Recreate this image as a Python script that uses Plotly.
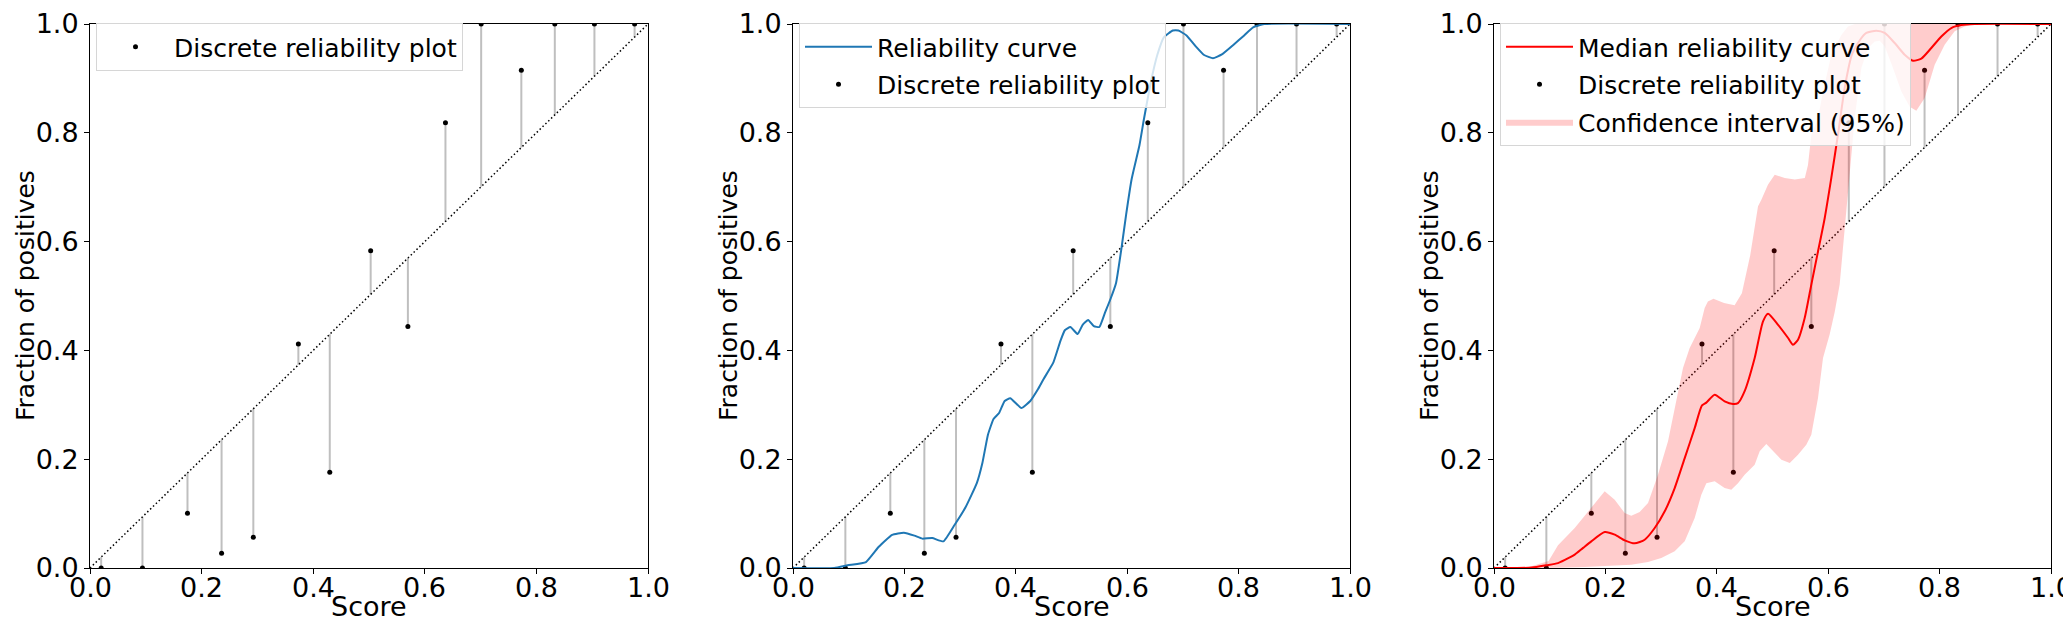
import plotly.graph_objects as go

# ---------------- data ----------------
disc_x = [0.02, 0.094, 0.1747, 0.2358, 0.2927, 0.3734, 0.4297, 0.503, 0.5697, 0.637,
          0.701, 0.773, 0.833, 0.904, 0.976]
disc_y = [0.0, 0.0, 0.1005, 0.027, 0.0564, 0.4118, 0.176, 0.583, 0.444, 0.8185,
          1.0, 0.915, 1.0, 1.0, 1.0]

curve_x = [0.0, 0.074, 0.098, 0.131, 0.154, 0.178, 0.199, 0.218, 0.232, 0.25, 0.27,
           0.29, 0.31, 0.33, 0.34, 0.35, 0.36, 0.37, 0.38, 0.39, 0.41, 0.426, 0.44,
           0.45, 0.4675, 0.48, 0.488, 0.498, 0.511, 0.52, 0.53, 0.54, 0.55, 0.56,
           0.57, 0.58, 0.59, 0.598, 0.608, 0.622, 0.63, 0.642, 0.654, 0.666, 0.682,
           0.692, 0.7065, 0.723, 0.738, 0.754, 0.77, 0.79, 0.81, 0.826, 0.846, 1.0]
curve_y = [0.0, 0.0, 0.005, 0.011, 0.039, 0.061, 0.065, 0.0595, 0.054, 0.055, 0.049,
           0.079, 0.112, 0.156, 0.193, 0.245, 0.274, 0.285, 0.307, 0.312, 0.294, 0.307,
           0.329, 0.3475, 0.378, 0.417, 0.437, 0.443, 0.43, 0.447, 0.456, 0.4445, 0.443,
           0.469, 0.4945, 0.524, 0.59, 0.649, 0.715, 0.777, 0.825, 0.891, 0.943, 0.976,
           0.988, 0.988, 0.979, 0.959, 0.943, 0.937, 0.944, 0.961, 0.979, 0.994, 1.0, 1.0]

median_x = [0.0, 0.0675, 0.094, 0.1149, 0.137, 0.1449, 0.16, 0.1747, 0.1987, 0.2167,
            0.2346, 0.2526, 0.2705, 0.2885, 0.3065, 0.3244, 0.3424, 0.3603, 0.3734,
            0.3812, 0.3962, 0.4141, 0.4291, 0.438, 0.45, 0.468, 0.483, 0.492, 0.51,
            0.528, 0.5368, 0.5458, 0.5578, 0.5697, 0.5817, 0.5937, 0.6056, 0.618, 0.63,
            0.643, 0.658, 0.6685, 0.6864, 0.7014, 0.7193, 0.7373, 0.7522, 0.7672,
            0.7851, 0.8031, 0.821, 0.839, 0.863, 1.0]
median_y = [0.0, 0.0007, 0.005, 0.009, 0.02, 0.0245, 0.037, 0.049, 0.0662, 0.0613,
            0.0509, 0.0453, 0.052, 0.0735, 0.1042, 0.147, 0.202, 0.257, 0.299, 0.304,
            0.3186, 0.3064, 0.3015, 0.303, 0.325, 0.386, 0.4535, 0.4675, 0.447, 0.4228,
            0.4105, 0.4197, 0.4596, 0.521, 0.582, 0.643, 0.717, 0.80, 0.885, 0.945,
            0.972, 0.9835, 0.9877, 0.9835, 0.965, 0.9436, 0.9326, 0.9363, 0.9559, 0.977,
            0.9926, 0.998, 1.0, 1.0]

upper_x = [0.0, 0.06, 0.098, 0.1149, 0.1449, 0.1747, 0.1987, 0.2167, 0.2346, 0.2465,
           0.2615, 0.2765, 0.2944, 0.3124, 0.3273, 0.3393, 0.3513, 0.3693, 0.3782,
           0.384, 0.394, 0.413, 0.432, 0.445, 0.46, 0.474, 0.48, 0.492, 0.504, 0.522,
           0.54, 0.558, 0.5637, 0.5697, 0.5817, 0.5907, 0.6056, 0.6236, 0.6355, 0.6476,
           1.0]
upper_y = [0.0, 0.001, 0.013, 0.0417, 0.0735, 0.110, 0.141, 0.1256, 0.101, 0.096,
           0.103, 0.1195, 0.1715, 0.2329, 0.3064, 0.3676, 0.4044, 0.441, 0.478, 0.49,
           0.495, 0.487, 0.483, 0.505, 0.575, 0.665, 0.677, 0.705, 0.723, 0.717, 0.714,
           0.717, 0.741, 0.796, 0.827, 0.876, 0.9436, 0.98, 0.9955, 1.0, 1.0]

lower_x = [0.0, 0.075, 0.1149, 0.1628, 0.2047, 0.2465, 0.2765, 0.3004, 0.3244, 0.3424,
           0.3603, 0.3722, 0.3812, 0.3962, 0.414, 0.426, 0.438, 0.45, 0.468, 0.477,
           0.4889, 0.5009, 0.516, 0.531, 0.5458, 0.5607, 0.5697, 0.5817, 0.5907, 0.6026,
           0.6116, 0.6206, 0.6266, 0.6355, 0.6476, 0.6595, 0.6715, 0.6835, 0.6925,
           0.7014, 0.7163, 0.7313, 0.7463, 0.7582, 0.7732, 0.7912, 0.8091, 0.827, 0.845,
           0.863, 1.0]
lower_y = [0.0, 0.0, 0.0006, 0.0018, 0.0037, 0.0061, 0.011, 0.0184, 0.0306, 0.049,
           0.0919, 0.1348, 0.156, 0.1593, 0.147, 0.144, 0.156, 0.1715, 0.19, 0.2145,
           0.228, 0.2145, 0.199, 0.193, 0.208, 0.2267, 0.245, 0.3125, 0.386, 0.429,
           0.47, 0.521, 0.582, 0.686, 0.827, 0.919, 0.9559, 0.968, 0.969, 0.959, 0.919,
           0.876, 0.848, 0.8406, 0.864, 0.925, 0.962, 0.9865, 0.9955, 1.0, 1.0]

tick_vals = [0.0, 0.2, 0.4, 0.6, 0.8, 1.0]
tick_text = ["0.0", "0.2", "0.4", "0.6", "0.8", "1.0"]
x_title = "Score"
y_title = "Fraction of positives"

# ---------------- layout geometry ----------------
W, H = 2071, 626
TOP, BOTTOM = 16, 560
panels_px = [(82, 640), (785, 1342), (1486, 2043)]
FONT = "DejaVu Sans"
TICK_SIZE = 27
XTITLE_SIZE = 27
YTITLE_SIZE = 25
LEGEND_SIZE = 25

fig = go.Figure()

# vertical gap lines between diagonal and points
gap_x, gap_y = [], []
for xv, yv in zip(disc_x, disc_y):
    gap_x += [xv, xv, None]
    gap_y += [xv, yv, None]

for i in range(3):
    sfx = "" if i == 0 else str(i + 1)
    xa, ya = "x" + sfx, "y" + sfx
    leg = "legend" + sfx
    fig.add_trace(go.Scatter(x=gap_x, y=gap_y, mode="lines", xaxis=xa, yaxis=ya,
                             line=dict(color="rgba(128,128,128,0.5)", width=2),
                             showlegend=False, hoverinfo="skip"))
    fig.add_trace(go.Scatter(x=[0, 1], y=[0, 1], mode="lines", xaxis=xa, yaxis=ya,
                             line=dict(color="black", width=1.5, dash="1.5px,2.5px"),
                             showlegend=False, hoverinfo="skip"))
    fig.add_trace(go.Scatter(x=disc_x, y=disc_y, mode="markers", xaxis=xa, yaxis=ya,
                             marker=dict(color="black", size=5),
                             name="Discrete reliability plot", legend=leg,
                             legendgroup="disc%d" % i, legendrank=2))
    if i == 1:
        fig.add_trace(go.Scatter(x=curve_x, y=curve_y, mode="lines", xaxis=xa, yaxis=ya,
                                 line=dict(color="#1f77b4", width=2, shape="spline",
                                           smoothing=0.4),
                                 name="Reliability curve", legend=leg,
                                 legendgroup="curve", legendrank=1))
    if i == 2:
        fig.add_trace(go.Scatter(x=upper_x + lower_x[::-1], y=upper_y + lower_y[::-1],
                                 mode="lines", fill="toself", xaxis=xa, yaxis=ya,
                                 fillcolor="rgba(255,0,0,0.2)",
                                 line=dict(color="rgba(255,0,0,0)", width=0),
                                 name="Confidence interval (95%)", legend=leg,
                                 legendgroup="ci", legendrank=3))
        fig.add_trace(go.Scatter(x=median_x, y=median_y, mode="lines", xaxis=xa, yaxis=ya,
                                 line=dict(color="red", width=2, shape="spline",
                                           smoothing=0.6),
                                 name="Median reliability curve", legend=leg,
                                 legendgroup="median", legendrank=1))

axis_common = dict(range=[0, 1], tickvals=tick_vals, ticktext=tick_text,
                   showgrid=False, zeroline=False, showline=True, mirror=True,
                   linecolor="black", linewidth=1, ticks="outside", ticklen=5,
                   tickcolor="black", automargin=False, ticklabeloverflow="allow",
                   tickfont=dict(size=TICK_SIZE, color="black", family=FONT))

layout = dict(width=W, height=H, paper_bgcolor="white", plot_bgcolor="white",
              margin=dict(l=0, r=0, t=TOP, b=H - BOTTOM, autoexpand=False),
              font=dict(family=FONT, size=LEGEND_SIZE, color="black"))

annotations = []
for i, (l, r) in enumerate(panels_px):
    sfx = "" if i == 0 else str(i + 1)
    layout["xaxis" + sfx] = dict(axis_common, domain=[l / W, r / W], anchor="y" + sfx,
                                 showticklabels=False)
    layout["yaxis" + sfx] = dict(axis_common, domain=[0, 1], anchor="x" + sfx)
    layout["legend" + sfx] = dict(x=(l + 6) / W, y=(BOTTOM - 15) / (BOTTOM - TOP),
                                  xanchor="left", yanchor="top",
                                  bgcolor="rgba(255,255,255,0.8)",
                                  bordercolor="#d6d6d6", borderwidth=1,
                                  font=dict(size=LEGEND_SIZE, family=FONT, color="black"),
                                  itemwidth=67, tracegroupgap=2)
    # x tick labels (drawn as text so their distance to the axis can be matched)
    for tv, tt in zip(tick_vals, tick_text):
        annotations.append(dict(text=tt, xref="x" + sfx, yref="paper", x=tv, y=0,
                                xanchor="center", yanchor="middle", yshift=-19,
                                showarrow=False,
                                font=dict(size=TICK_SIZE, family=FONT, color="black")))
    annotations.append(dict(text=x_title, xref="paper", yref="paper",
                            x=(l + r) / 2 / W, y=0, xanchor="center", yanchor="middle",
                            yshift=-38, showarrow=False,
                            font=dict(size=XTITLE_SIZE, family=FONT, color="black")))
    annotations.append(dict(text=y_title, xref="paper", yref="paper",
                            x=l / W, y=0.5, xanchor="center", yanchor="middle",
                            xshift=-65, textangle=-90, showarrow=False, borderpad=0,
                            font=dict(size=YTITLE_SIZE, family=FONT, color="black")))

layout["annotations"] = annotations
fig.update_layout(**layout)
fig.write_html("out.html")
